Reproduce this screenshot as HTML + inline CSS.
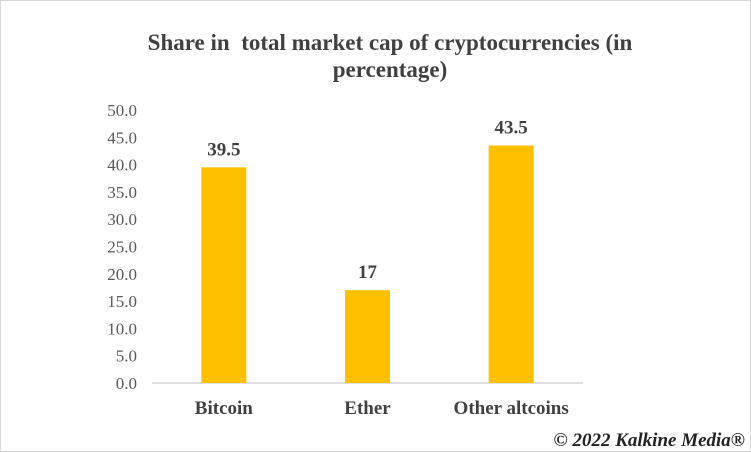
<!DOCTYPE html>
<html><head><meta charset="utf-8"><style>
html,body{margin:0;padding:0;background:#fff}
svg{display:block}
text{font-family:"Liberation Serif",serif}
</style></head><body>
<svg id="chart" width="751" height="452">
<rect x="0.5" y="0.5" width="750" height="451" fill="#fff" stroke="#d9d9d9"/>
<text x="390" y="50" text-anchor="middle" font-size="23" font-weight="bold" fill="#404040">Share in&#160; total market cap of cryptocurrencies (in</text>
<text x="390" y="77" text-anchor="middle" font-size="23" font-weight="bold" fill="#404040">percentage)</text>
<g id="plot"></g>
<text x="745" y="446" text-anchor="end" font-size="19" font-weight="bold" font-style="italic" fill="#222">© 2022 Kalkine Media®</text>
</svg>
<script>
const categories = ["Bitcoin","Ether","Other altcoins"];
const values = [39.5,17,43.5];
const valueLabels = ["39.5","17","43.5"];
const ticks = [0,5,10,15,20,25,30,35,40,45,50];
const NS="http://www.w3.org/2000/svg";
const g=document.getElementById('plot');
const x0=152,x1=583,yBase=383,yTop=110,yMax=50;
const y=v=>yBase-(v/yMax)*(yBase-yTop);
const band=(x1-x0)/categories.length;
const xc=i=>x0+band*(i+0.5);
function mk(t,a){const e=document.createElementNS(NS,t);for(const k in a)e.setAttribute(k,a[k]);g.appendChild(e);return e;}
ticks.forEach(t=>{
  const e=mk('text',{x:137,y:y(t)+6,'text-anchor':'end','font-size':17,fill:'#595959'});
  e.textContent=t.toFixed(1);
  
  
});
const ax=mk('line',{x1:x0,x2:x1,y1:yBase,y2:yBase,stroke:'#bfbfbf','stroke-width':1});


categories.forEach((c,i)=>{
  const w=45;
  const r=mk('rect',{x:xc(i)-w/2,y:y(values[i]),width:w,height:yBase-y(values[i]),fill:'#ffc000'});
  
  
  const l=mk('text',{x:xc(i),y:y(values[i])-12,'text-anchor':'middle','font-size':19,'font-weight':'bold',fill:'#404040'});
  l.textContent=valueLabels[i];
  
  
  const cl=mk('text',{x:xc(i),y:yBase+31,'text-anchor':'middle','font-size':19,'font-weight':'bold',fill:'#404040'});
  cl.textContent=c;
  
  
});
</script>
</body></html>
